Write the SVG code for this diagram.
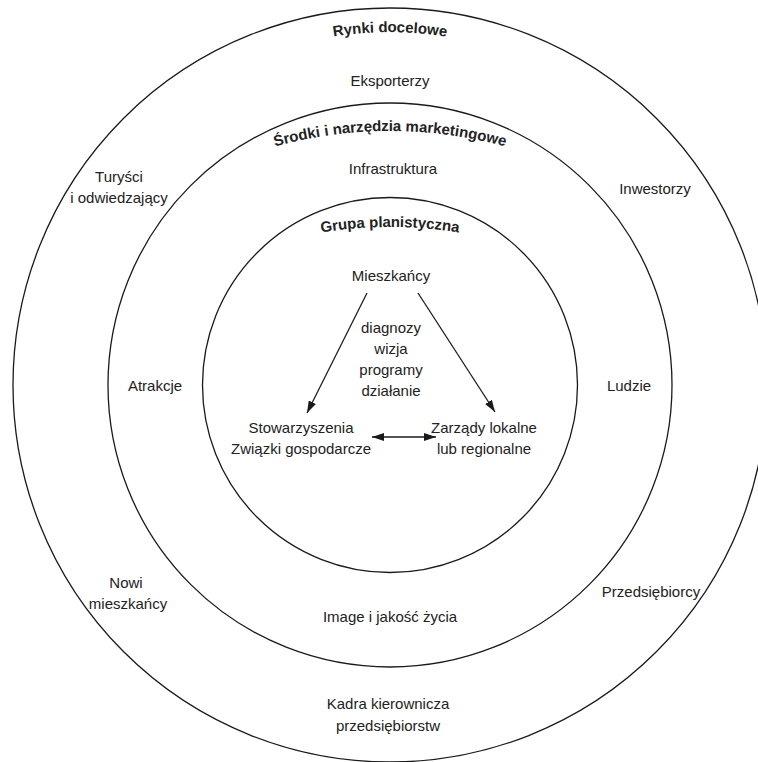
<svg xmlns="http://www.w3.org/2000/svg" width="758" height="762" viewBox="0 0 758 762">
<style>
.ring{fill:none;stroke:#1a1a1a;stroke-width:1.3}
.t{font-family:"Liberation Sans",Arial,sans-serif;font-size:15px;fill:#222;text-anchor:middle}
.b{font-family:"Liberation Sans",Arial,sans-serif;font-size:15px;font-weight:bold;fill:#222}
.c{fill:none;stroke:#1a1a1a;stroke-width:1.3}
</style>
<defs>
<marker id="ah" viewBox="0 0 12 8" refX="12" refY="4" markerWidth="12" markerHeight="8" markerUnits="userSpaceOnUse" orient="auto-start-reverse">
<path d="M0,0 L12,4 L0,8 Z" fill="#1a1a1a"/>
</marker>
<path id="arcOuter" d="M 37 385 A 353 353 0 0 1 743 385"/>
<path id="arcMid" d="M -46 567 A 436 436 0 0 1 826 567"/>
<path id="arcIn" d="M -33 650 A 423 423 0 0 1 813 650"/>
</defs>
<rect width="758" height="762" fill="#fff"/>

<g id="ring-outer">
<circle class="ring" cx="390" cy="385" r="377"/>
<text class="b" text-anchor="middle"><textPath href="#arcOuter" startOffset="50%">Rynki docelowe</textPath></text>
</g>
<g id="ring-middle">
<circle class="ring" cx="390" cy="385" r="282"/>
<text class="b" text-anchor="middle"><textPath href="#arcMid" startOffset="50%">Środki i narzędzia marketingowe</textPath></text>
</g>
<g id="ring-inner">
<circle class="ring" cx="390" cy="385" r="187.5"/>
<text class="b" text-anchor="middle"><textPath href="#arcIn" startOffset="50%">Grupa planistyczna</textPath></text>
</g>

<g id="eksporterzy"><text class="t" x="390" y="86">Eksporterzy</text></g>
<g id="turysci"><text class="t" x="119" y="182">Turyści</text><text class="t" x="119" y="203">i odwiedzający</text></g>
<g id="inwestorzy"><text class="t" x="655" y="194">Inwestorzy</text></g>
<g id="nowi"><text class="t" x="126" y="588">Nowi</text><text class="t" x="128" y="609">mieszkańcy</text></g>
<g id="przedsiebiorcy"><text class="t" x="651" y="597">Przedsiębiorcy</text></g>
<g id="kadra"><text class="t" x="388" y="709">Kadra kierownicza</text><text class="t" x="388" y="731">przedsiębiorstw</text></g>

<g id="infrastruktura"><text class="t" x="393" y="174">Infrastruktura</text></g>
<g id="atrakcje"><text class="t" x="155" y="391">Atrakcje</text></g>
<g id="ludzie"><text class="t" x="629" y="391">Ludzie</text></g>
<g id="image"><text class="t" x="390" y="622">Image i jakość życia</text></g>

<g id="mieszkancy"><text class="t" x="391" y="281">Mieszkańcy</text></g>
<g id="dzialania"><text class="t" x="391" y="333">diagnozy</text><text class="t" x="391" y="354">wizja</text><text class="t" x="391" y="375">programy</text><text class="t" x="391" y="396">działanie</text></g>
<g id="stowarzyszenia"><text class="t" x="301" y="433">Stowarzyszenia</text><text class="t" x="301" y="454">Związki gospodarcze</text></g>
<g id="zarzady"><text class="t" x="484" y="433">Zarządy lokalne</text><text class="t" x="484" y="454">lub regionalne</text></g>

<g id="connectors">
<line class="c" x1="367" y1="293" x2="307" y2="413" marker-end="url(#ah)"/>
<line class="c" x1="418" y1="293" x2="495" y2="412" marker-end="url(#ah)"/>
<line class="c" x1="372" y1="437" x2="436" y2="437" marker-start="url(#ah)" marker-end="url(#ah)"/>
</g>
</svg>
